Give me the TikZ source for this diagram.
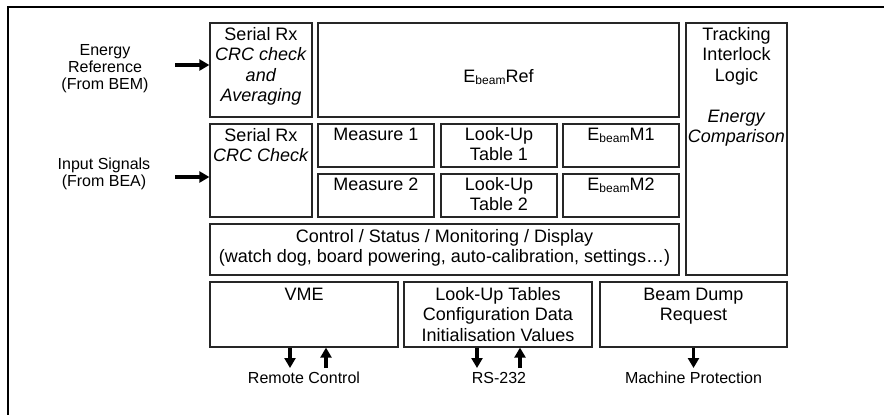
\documentclass[tikz,border=0pt]{standalone}
\usepackage{fontspec}
\setmainfont{Liberation Sans}
\usetikzlibrary{arrows.meta,fit}
\newcommand\Ebeam{E\raisebox{-2.5pt}{\fontsize{12}{12}\selectfont beam}}
\begin{document}
\begin{tikzpicture}[x=1pt,y=-1pt,
  blk/.style={draw=black!85, line width=1.3pt, inner sep=0pt},
  bt/.style={font=\fontsize{18}{20.5}\selectfont, align=center, anchor=base, inner sep=0pt},
  lt/.style={font=\fontsize{16}{17}\selectfont, align=center, anchor=base, inner sep=0pt},
  arr/.style={line width=3.5pt, -{Triangle[length=10pt,width=11pt]}}]
\useasboundingbox (0,0) rectangle (884,415);
\draw[line width=2.5pt] (8,415) |- (884,7);
% boxes
\node[blk, fit={(210,23) (312,117)}] (rx1) {};
\node[blk, fit={(318,23) (679,117)}] (ref) {};
\node[blk, fit={(686,23) (787,275)}] (trk) {};
\node[blk, fit={(210,124) (312,217)}] (rx2) {};
\node[blk, fit={(318,124) (434,167)}] (m1) {};
\node[blk, fit={(318,174) (434,217)}] (m2) {};
\node[blk, fit={(441,124) (557,167)}] (lu1) {};
\node[blk, fit={(441,174) (557,217)}] (lu2) {};
\node[blk, fit={(563,124) (679,167)}] (em1) {};
\node[blk, fit={(563,174) (679,217)}] (em2) {};
\node[blk, fit={(210,224) (679,275)}] (ctl) {};
\node[blk, fit={(210,282) (398,347)}] (vme) {};
\node[blk, fit={(404,282) (592,347)}] (lut) {};
\node[blk, fit={(600,282) (787,347)}] (bdr) {};
% box texts (anchor = baseline of last line)
\node[bt] (trx1) at (261,101.5) {Serial Rx\\ \textit{CRC check}\\ \textit{and}\\ \textit{Averaging}};
\node[bt] (trx2) at (261,161.5) {Serial Rx\\ \textit{CRC Check}};
\node[bt] (tref) at (498.5,82) {\Ebeam Ref};
\node[bt] (ttrk) at (736.5,142.5) {Tracking\\ Interlock\\ Logic\\[20.5pt] \textit{Energy}\\ \textit{Comparison}};
\node[bt] (tm1) at (376,140) {Measure 1};
\node[bt] (tm2) at (376,190) {Measure 2};
\node[bt] (tlu1) at (499,160.5) {Look-Up\\ Table 1};
\node[bt] (tlu2) at (499,210.5) {Look-Up\\ Table 2};
\node[bt] (tem1) at (621,140) {\Ebeam M1};
\node[bt] (tem2) at (621,190) {\Ebeam M2};
\node[bt] (tctl) at (444.5,262.5) {Control / Status / Monitoring / Display\\ (watch dog, board powering, auto-calibration, settings…)};
\node[bt] (tvme) at (304,300) {VME};
\node[bt] (tlut) at (498,341) {Look-Up Tables\\ Configuration Data\\ Initialisation Values};
\node[bt] (tbdr) at (693.5,320.5) {Beam Dump\\ Request};
% outside labels
\node[lt] (lE) at (105,89) {Energy\\ Reference\\ (From BEM)};
\node[lt] (lI) at (104,186) {Input Signals\\ (From BEA)};
\node[lt] (lrc) at (304,383) {Remote Control};
\node[lt] (lrs) at (499,383) {RS-232};
\node[lt] (lmp) at (693.5,383) {Machine Protection};
% arrows
\coordinate (inE) at (175,65);
\coordinate (inS) at (175,177);
\draw[arr] (inE) -- (inE -| rx1.west);
\draw[arr] (inS) -- (inS -| rx2.west);
\coordinate (rc1) at (290,368);
\coordinate (rc2) at (326,368);
\coordinate (rs1) at (477,368);
\coordinate (rs2) at (520,368);
\coordinate (mp1) at (693.5,368);
\draw[arr] (rc1 |- vme.south) -- (rc1);
\draw[arr] (rc2) -- (rc2 |- vme.south);
\draw[arr] (rs1 |- lut.south) -- (rs1);
\draw[arr] (rs2) -- (rs2 |- lut.south);
\draw[arr] (mp1 |- bdr.south) -- (mp1);
\end{tikzpicture}
\end{document}
